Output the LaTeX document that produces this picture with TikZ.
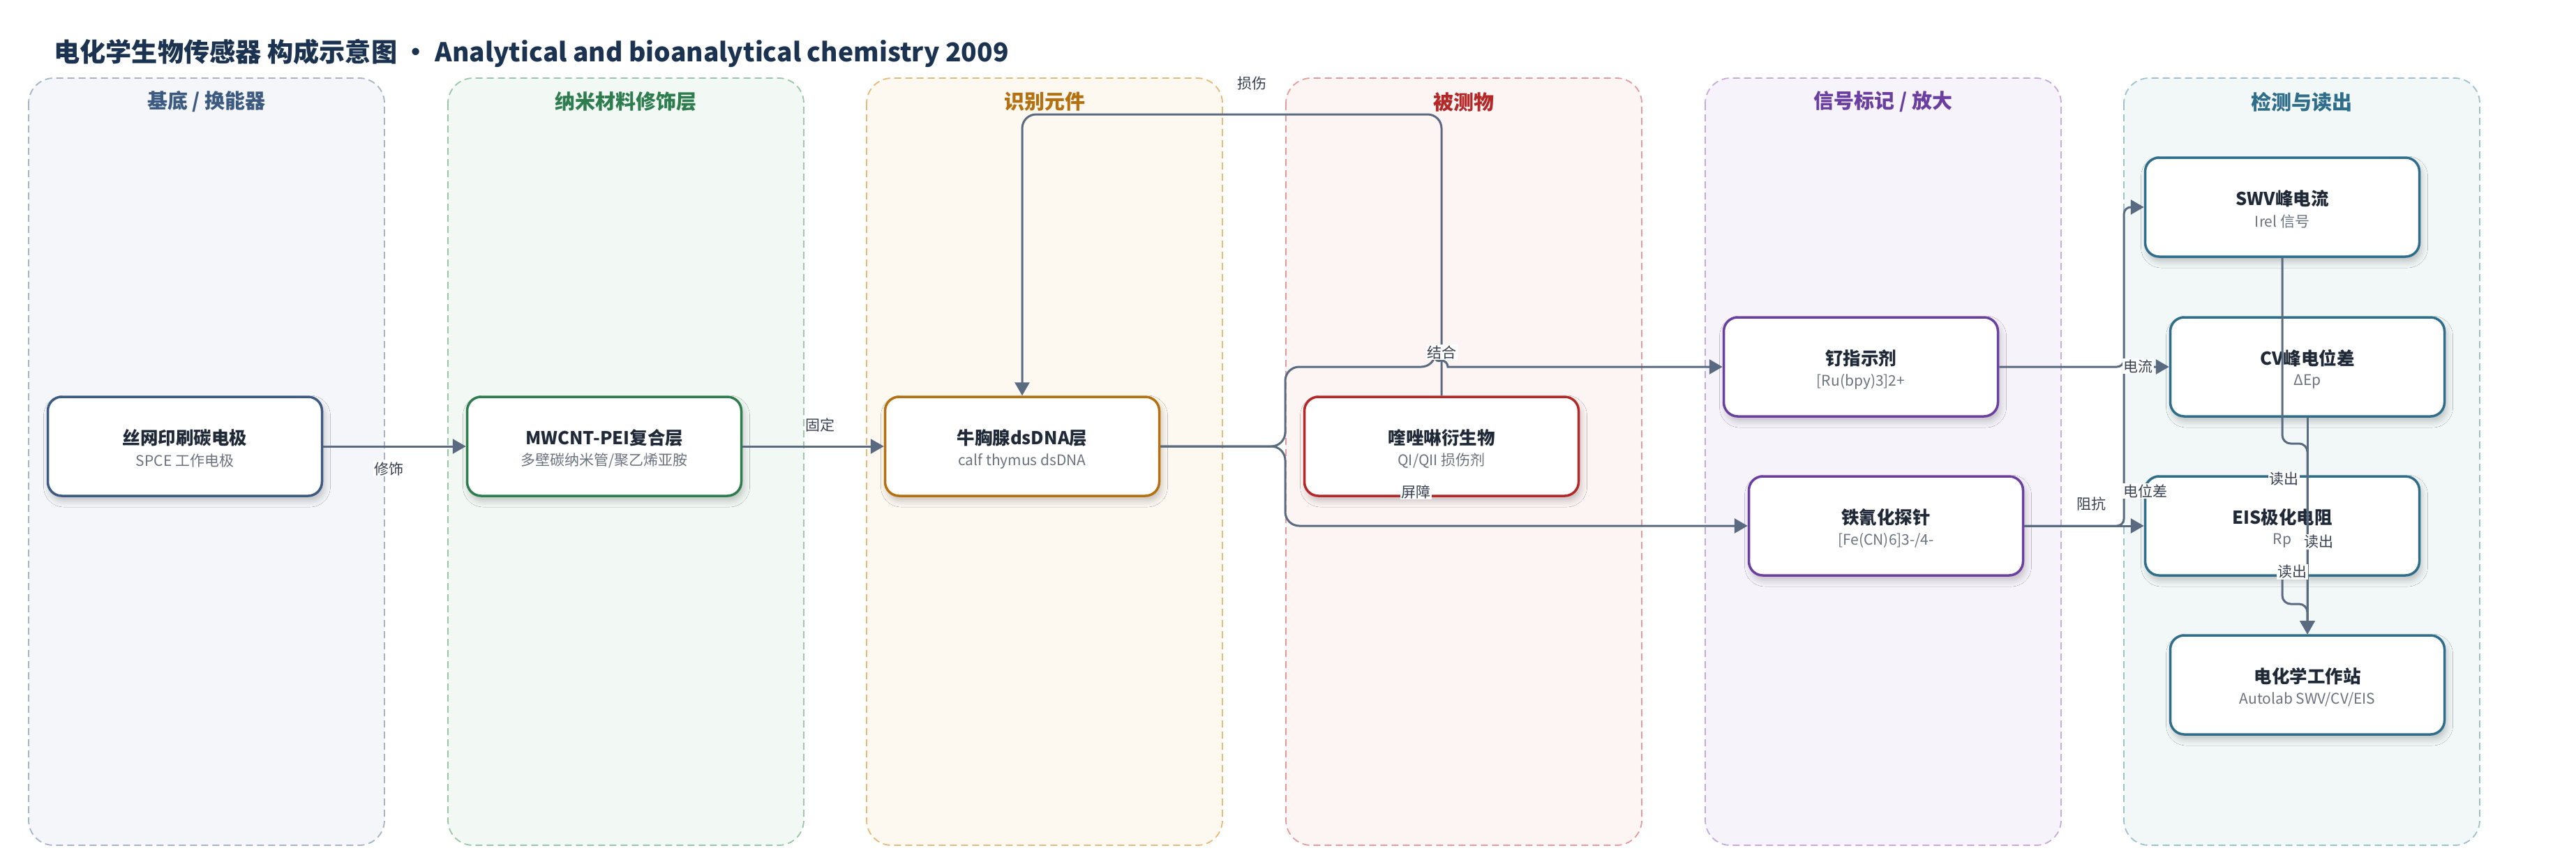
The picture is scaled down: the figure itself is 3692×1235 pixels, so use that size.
\documentclass[tikz,border=0pt]{standalone}
\usepackage{fontspec}
\setmainfont{Noto Sans CJK SC}
\usetikzlibrary{arrows.meta,shadows.blur}

\definecolor{titlec}{HTML}{1B3350}
\definecolor{txtc}{HTML}{1F2937}
\definecolor{subc}{HTML}{6B7280}
\definecolor{labc}{HTML}{374151}
\definecolor{edgec}{HTML}{5A6A80}
\definecolor{la}{HTML}{3D5A80}\definecolor{laf}{HTML}{F4F6FA}\definecolor{lab}{HTML}{A6B4CA}
\definecolor{lb}{HTML}{2E7D4F}\definecolor{lbf}{HTML}{F2F8F4}\definecolor{lbb}{HTML}{98C8A6}
\definecolor{lc}{HTML}{B5700F}\definecolor{lcf}{HTML}{FDF8F0}\definecolor{lcb}{HTML}{E6BA7A}
\definecolor{ld}{HTML}{B42828}\definecolor{ldf}{HTML}{FDF4F4}\definecolor{ldb}{HTML}{E59C9C}
\definecolor{le}{HTML}{6A3FA0}\definecolor{lef}{HTML}{F7F3FB}\definecolor{leb}{HTML}{C6AADF}
\definecolor{lf}{HTML}{2F6E8A}\definecolor{lff}{HTML}{F2F7F8}\definecolor{lfb}{HTML}{9EC2CD}

\tikzset{
  lanebox/.style={draw=#1, dash pattern=on 10pt off 6pt, line width=1.8pt, rounded corners=36pt},
  lanetitle/.style={font=\bfseries\fontsize{29}{32}\selectfont, text=#1},
  nodebox/.style={draw=#1, line width=3.5pt, fill=white, rounded corners=20pt,
    minimum width=393pt, minimum height=142pt, inner sep=0pt,
    blur shadow={shadow xshift=3pt, shadow yshift=-7pt, shadow blur radius=9pt, shadow opacity=22}},
  ttltxt/.style={font=\bfseries\fontsize{25.5}{28}\selectfont, text=txtc, inner sep=0pt},
  subtxt/.style={font=\fontsize{21}{24}\selectfont, text=subc, inner sep=0pt},
  conn/.style={draw=edgec, line width=3pt, rounded corners=20pt, -{Triangle[length=19pt,width=21pt]}},
  elab/.style={font=\fontsize{21}{24}\selectfont, text=labc, fill=white, inner sep=1.5pt},
}

\newcommand\flowbox[6]{%
  \node[nodebox=#4] (#1) at (#2,#3) {};
  \node[ttltxt, yshift=12pt] (#1-t) at (#1) {#5};
  \node[subtxt, yshift=-21pt] (#1-s) at (#1) {#6};
}

\begin{document}
\begin{tikzpicture}[x=1pt,y=-1pt]
\useasboundingbox (0,0) rectangle (3692,1235);
\fill[white] (0,0) rectangle (3692,1235);

% title
\node[anchor=west, inner sep=0pt, font=\bfseries\fontsize{37.2}{40}\selectfont, text=titlec] (title) at (77,76)
  {电化学生物传感器 构成示意图 • Analytical and bioanalytical chemistry 2009};

% lanes
\draw[lanebox=lab, fill=laf] (41,112) rectangle (551,1212);
\draw[lanebox=lbb, fill=lbf] (642,112) rectangle (1152,1212);
\draw[lanebox=lcb, fill=lcf] (1242,112) rectangle (1752,1212);
\draw[lanebox=ldb, fill=ldf] (1843,112) rectangle (2353,1212);
\draw[lanebox=leb, fill=lef] (2444,112) rectangle (2954,1212);
\draw[lanebox=lfb, fill=lff] (3044,112) rectangle (3554,1212);

\node[lanetitle=la] (lt1) at (296,146) {基底 / 换能器};
\node[lanetitle=lb] (lt2) at (897,146) {纳米材料修饰层};
\node[lanetitle=lc] (lt3) at (1497,146) {识别元件};
\node[lanetitle=ld] (lt4) at (2098,146) {被测物};
\node[lanetitle=le] (lt5) at (2699,146) {信号标记 / 放大};
\node[lanetitle=lf] (lt6) at (3299,146) {检测与读出};

% nodes
\flowbox{n1}{265}{640}{la}{丝网印刷碳电极}{SPCE 工作电极}
\flowbox{n2}{866}{640}{lb}{MWCNT-PEI复合层}{多壁碳纳米管/聚乙烯亚胺}
\flowbox{n3}{1465}{640}{lc}{牛胸腺dsDNA层}{calf thymus dsDNA}
\flowbox{n4}{2066}{640}{ld}{喹唑啉衍生物}{QI/QII 损伤剂}
\flowbox{n5}{2667}{526}{le}{钌指示剂}{[Ru(bpy)3]2+}
\flowbox{n6}{2703}{754}{le}{铁氰化探针}{[Fe(CN)6]3-/4-}
\flowbox{n9}{3271}{297}{lf}{SWV峰电流}{Irel 信号}
\flowbox{n7}{3307}{526}{lf}{CV峰电位差}{ΔEp}
\flowbox{n8}{3271}{754}{lf}{EIS极化电阻}{Rp}
\flowbox{n10}{3307}{982}{lf}{电化学工作站}{Autolab SWV/CV/EIS}

% helper coordinates
\coordinate (topy) at (0,164);
\coordinate (splitU) at (1842,640);
\coordinate (splitUp) at (1842,526);
\coordinate (splitDn) at (1842,754);
\coordinate (hopL) at (2057,526);
\coordinate (busA) at (3044,526);
\coordinate (busB) at (3044,297);
\coordinate (busC) at (3044,754);
\coordinate (sA) at (3271,636);
\coordinate (sB) at (3307,636);
\coordinate (sC) at (3271,866);
\coordinate (sD) at (3307,866);

% connectors
\draw[conn] (n1.east) -- (n2.west);
\draw[conn] (n2.east) -- (n3.west);
\draw[conn] (n4.north) -- (n4.north |- topy) -| (n3.north);
\draw[conn] (n3.east) -- (splitU) -- (splitUp) -- (hopL) [sharp corners] arc[start angle=180, end angle=360, radius=9] -- (n5.west);
\draw[conn] (n3.east) -- (splitU) -- (splitDn) -- (n6.west);
\draw[conn, rounded corners=10pt] (n5.east) -- (busA) -- (busB) -- (n9.west);
\draw[conn, rounded corners=10pt] (n6.east) -- (busC) -- (busA) -- (n7.west);
\draw[conn] (n6.east) -- (n8.west);
\draw[conn, rounded corners=12pt] (n9.south) -- (sA) -- (sB) -- (n10.north);
\draw[conn] (n7.south) -- (n10.north);
\draw[conn, rounded corners=12pt] (n8.south) -- (sC) -- (sD) -- (n10.north);

% labels
\node[elab] (l1) at (557,672) {修饰};
\node[elab] (l2) at (1175,609) {固定};
\node[elab] (l3) at (1794,120) {损伤};
\node[elab] (l4) at (2066,505) {结合};
\node[elab] (l5) at (2029,705) {屏障};
\node[elab] (l6) at (3064,525) {电流};
\node[elab] (l7) at (3075,704) {电位差};
\node[elab] (l8) at (2997,722) {阻抗};
\node[elab] (l9) at (3273,687) {读出};
\node[elab] (l10) at (3323,777) {读出};
\node[elab] (l11) at (3285,820) {读出};
\end{tikzpicture}
\end{document}
